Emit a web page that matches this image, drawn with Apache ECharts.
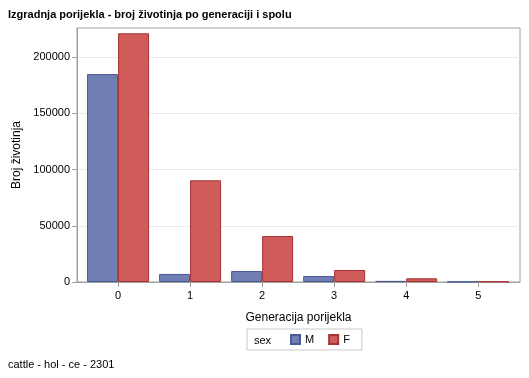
<!DOCTYPE html>
<html><head><meta charset="utf-8">
<script src="https://cdn.jsdelivr.net/npm/echarts@6/dist/echarts.min.js"></script>
<style>html,body{margin:0;padding:0;background:#fff}#c{width:529px;height:378px}</style>
</head><body><div id="c"></div>
<script>
const categories = [0, 1, 2, 3, 4, 5];
const maleValues = [185000, 7200, 9800, 5300, 1000, 300];
const femaleValues = [221300, 90500, 40900, 10700, 3300, 500];
const yTicks = [0, 50000, 100000, 150000, 200000];
const FONT = '"Liberation Sans", Arial, sans-serif';

const chart = echarts.init(document.getElementById('c'));
chart.setOption({
  animation: false,
  textStyle: { fontFamily: FONT },
  title: [
    { text: 'Izgradnja porijekla - broj životinja po generaciji i spolu', left: 3, top: 4,
      textStyle: { fontSize: 11, fontWeight: 'bold', color: '#000', fontFamily: FONT } },
    { text: 'cattle - hol - ce - 2301', left: 3, top: 354,
      textStyle: { fontSize: 11, fontWeight: 'normal', color: '#000', fontFamily: FONT } },
    { text: 'sex', left: 249, top: 330,
      textStyle: { fontSize: 11, fontWeight: 'normal', color: '#000', fontFamily: FONT } }
  ],
  legend: {
    left: 247, top: 329, padding: [5, 12, 5, 43],
    borderColor: '#c8c8c8', borderWidth: 1,
    icon: 'rect', itemWidth: 9, itemHeight: 9, itemGap: 14,
    textStyle: { fontSize: 11, color: '#000', fontFamily: FONT },
    data: ['M', 'F']
  },
  grid: { left: 77, right: 9, top: 28, bottom: 96, show: true, borderColor: '#a0a0a0', borderWidth: 1 },
  xAxis: {
    type: 'value', min: -0.57, max: 5.58,
    name: 'Generacija porijekla', nameLocation: 'middle', nameGap: 30,
    nameTextStyle: { fontSize: 12, color: '#000', fontFamily: FONT },
    axisLine: { show: true, onZero: false, lineStyle: { color: '#a0a0a0' } },
    axisTick: { show: true, customValues: categories, length: 5, lineStyle: { color: '#a0a0a0' } },
    axisLabel: { customValues: categories, fontSize: 11, color: '#000', margin: 8 },
    splitLine: { show: false }
  },
  yAxis: {
    type: 'value', min: 0, max: 226000,
    name: 'Broj životinja', nameLocation: 'middle', nameGap: 53,
    nameTextStyle: { fontSize: 12, color: '#000', fontFamily: FONT },
    axisLine: { show: true, onZero: false, lineStyle: { color: '#a0a0a0' } },
    axisTick: { show: true, customValues: yTicks, length: 5, lineStyle: { color: '#a0a0a0' } },
    axisLabel: { customValues: yTicks, fontSize: 11, color: '#000', margin: 7, formatter: v => String(v) },
    splitLine: { show: true, lineStyle: { color: '#ebebeb' } }
  },
  series: [
    { name: 'M', type: 'bar', barWidth: 31, barGap: '0%',
      itemStyle: { color: '#6f7eb3', borderColor: '#4a5a96', borderWidth: 1 },
      data: categories.map((c, i) => [c, maleValues[i]]) },
    { name: 'F', type: 'bar', barWidth: 31, barGap: '0%',
      itemStyle: { color: '#d05b5b', borderColor: '#a83333', borderWidth: 1 },
      data: categories.map((c, i) => [c, femaleValues[i]]) }
  ]
});
</script></body></html>
